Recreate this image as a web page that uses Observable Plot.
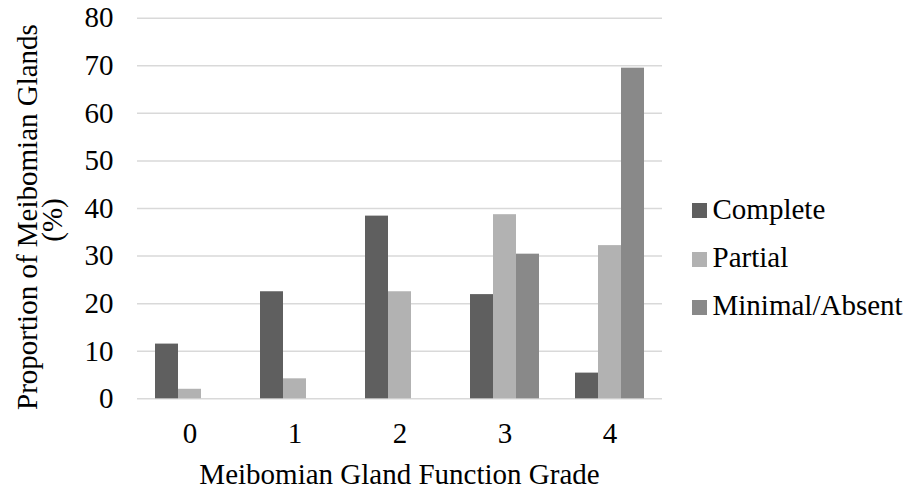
<!DOCTYPE html>
<html><head><meta charset="utf-8">
<script src="https://cdn.jsdelivr.net/npm/d3@7"></script>
<script src="https://cdn.jsdelivr.net/npm/@observablehq/plot@0.6"></script>
<style>
body{margin:0;background:#fff}
#wrap{position:relative;width:912px;height:493px;font-family:"Liberation Serif","Times New Roman",serif;color:#000;overflow:hidden}
#wrap svg{position:absolute;left:0;top:0}
.t{position:absolute;font-size:29px;line-height:1;white-space:nowrap}
.sw{position:absolute;width:15px;height:15px}
</style></head><body><div id="wrap"></div>
<script>
const grades = ["0", "1", "2", "3", "4"];
const series = ["Complete", "Partial", "Minimal/Absent"];
const complete = [11.5, 22.5, 38.4, 21.9, 5.4];
const partial = [2.0, 4.2, 22.5, 38.7, 32.2];
const minimal = [0, 0, 0, 30.4, 69.5];
const colors = ["#5f5f5f", "#b2b2b2", "#898989"];
const yTicks = [0, 10, 20, 30, 40, 50, 60, 70, 80];
const xTitle = "Meibomian Gland Function Grade";
const yTitle = ["Proportion of Meibomian Glands", "(%)"];

const valuesBySeries = [complete, partial, minimal];
const data = [];
grades.forEach((g, i) => series.forEach((s, j) => data.push({grade: g, series: s, value: valuesBySeries[j][i]})));

const chart = Plot.plot({
  width: 912, height: 493,
  marginLeft: 135, marginRight: 248, marginTop: 17.7, marginBottom: 94.7,
  style: {fontFamily: "'Liberation Serif', 'Times New Roman', serif", fontSize: "29px", color: "#000", background: "transparent", overflow: "visible"},
  fx: {domain: grades, paddingInner: 0.32, paddingOuter: 0.16, label: null, axis: null},
  x: {domain: series, padding: 0, axis: null},
  y: {domain: [0, 80], axis: null},
  color: {domain: series, range: colors},
  marks: [
    Plot.ruleY(yTicks, {y: d => d, stroke: "#d9d9d9", strokeWidth: 1.5, insetLeft: -17, insetRight: -17}),
    Plot.axisY({ticks: yTicks, tickSize: 0, tickPadding: 41, label: null, fill: "#000", tickFormat: d => String(d)}),
    Plot.barY(data, {fx: "grade", x: "series", y: "value", fill: "series"}),
    Plot.axisFx({anchor: "bottom", tickSize: 0, tickPadding: 24, label: null, fill: "#000"})
  ]
});
const wrap = document.getElementById("wrap");
wrap.appendChild(chart);

function addText(txt, left, top, transform) {
  const d = document.createElement("div");
  d.className = "t";
  d.textContent = txt;
  d.style.left = left + "px";
  d.style.top = top + "px";
  if (transform) d.style.transform = transform;
  wrap.appendChild(d);
  return d;
}
// axis titles
addText(xTitle, 399.5, 459.7, "translateX(-50%)");
addText(yTitle[0], 27.2, 217, "translate(-50%,-50%) rotate(-90deg)");
addText(yTitle[1], 51.9, 220, "translate(-50%,-50%) rotate(-90deg)");
// legend
series.forEach((s, j) => {
  const sw = document.createElement("div");
  sw.className = "sw";
  sw.style.left = "692.3px";
  sw.style.top = (203.3 + j * 48.2) + "px";
  sw.style.background = colors[j];
  wrap.appendChild(sw);
  addText(s, 712.5, 195 + j * 48.2);
});
</script>
</body></html>
